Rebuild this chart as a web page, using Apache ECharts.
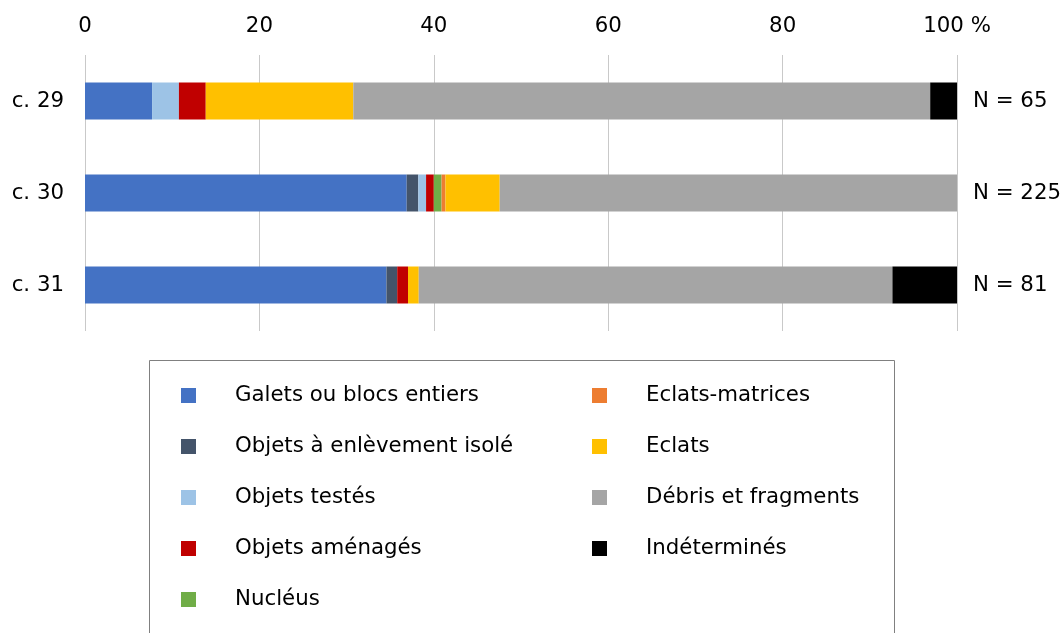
<!DOCTYPE html>
<html>
<head>
<meta charset="utf-8">
<script src="https://cdn.jsdelivr.net/npm/echarts@6/dist/echarts.min.js"></script>
<style>
  html, body { margin: 0; padding: 0; background: #fff; }
  #chart { width: 1064px; height: 633px; }
</style>
</head>
<body>
<div id="chart"></div>
<script>
// Layers (rows of the bar chart)
const layers = ['c. 29', 'c. 30', 'c. 31'];
const totals = [65, 225, 81];
const nLabels = ['N = 65', 'N = 225', 'N = 81'];
const xTickLabels = ['0', '20', '40', '60', '80', '100 %'];

// Object counts per category, one value per layer
const galets      = [5, 83, 28];
const enlevement  = [0, 3, 1];
const testes      = [2, 2, 0];
const amenages    = [2, 2, 1];
const nucleus     = [0, 2, 0];
const matrices    = [0, 1, 0];
const eclats      = [11, 14, 1];
const debris      = [43, 118, 44];
const indetermine = [2, 0, 6];

const categories = [
  ['Galets ou blocs entiers', galets, '#4472C4'],
  ['Objets à enlèvement isolé', enlevement, '#44546A'],
  ['Objets testés', testes, '#9DC3E6'],
  ['Objets aménagés', amenages, '#C00000'],
  ['Nucléus', nucleus, '#70AD47'],
  ['Eclats-matrices', matrices, '#ED7D31'],
  ['Eclats', eclats, '#FFC000'],
  ['Débris et fragments', debris, '#A5A5A5'],
  ['Indéterminés', indetermine, '#000000']
];

const FONT = 'DejaVu Sans';
const SIZE = 21.3;

// Stacked shares in percent of each layer's total
const series = categories.map(([name, counts, color]) => ({
  name: name,
  type: 'bar',
  stack: 'total',
  barWidth: 37,
  itemStyle: { color: color },
  emphasis: { disabled: true },
  data: counts.map((c, i) => c / totals[i] * 100)
}));

const legendText = {
  fontFamily: FONT,
  fontSize: SIZE,
  color: '#000',
  padding: [0, 0, 0, 34]
};

const chart = echarts.init(document.getElementById('chart'), null, { renderer: 'canvas' });
chart.setOption({
  animation: false,
  backgroundColor: '#fff',
  grid: { left: 85, right: 106, top: 55, bottom: 302, containLabel: false },
  xAxis: {
    type: 'value',
    position: 'top',
    min: 0,
    max: 100,
    interval: 20,
    axisLine: { show: false },
    axisTick: { show: false },
    axisLabel: {
      margin: 18,
      fontFamily: FONT,
      fontSize: SIZE,
      color: '#000',
      formatter: v => xTickLabels[Math.round(v / 20)]
    },
    splitLine: { show: true, lineStyle: { color: '#c9c9c9', width: 1 } }
  },
  yAxis: [
    {
      type: 'category',
      data: layers,
      inverse: true,
      axisLine: { show: false },
      axisTick: { show: false },
      axisLabel: { margin: 21, fontFamily: FONT, fontSize: SIZE, color: '#000' }
    },
    {
      type: 'category',
      data: nLabels,
      inverse: true,
      position: 'right',
      axisLine: { show: false },
      axisTick: { show: false },
      axisLabel: { margin: 16, fontFamily: FONT, fontSize: SIZE, color: '#000', align: 'left' }
    }
  ],
  legend: [
    {
      data: categories.slice(0, 5).map(c => c[0]),
      orient: 'vertical',
      left: 176,
      top: 380,
      icon: 'rect',
      itemWidth: 15,
      itemHeight: 15,
      itemGap: 30,
      selectedMode: false,
      textStyle: legendText
    },
    {
      data: categories.slice(5).map(c => c[0]),
      orient: 'vertical',
      left: 587,
      top: 380,
      icon: 'rect',
      itemWidth: 15,
      itemHeight: 15,
      itemGap: 30,
      selectedMode: false,
      textStyle: legendText
    }
  ],
  graphic: [
    {
      type: 'rect',
      shape: { x: 149.5, y: 360.5, width: 745, height: 320 },
      style: { fill: 'none', stroke: '#808080', lineWidth: 1 },
      silent: true,
      z: -1
    }
  ],
  series: series
});
</script>
</body>
</html>
